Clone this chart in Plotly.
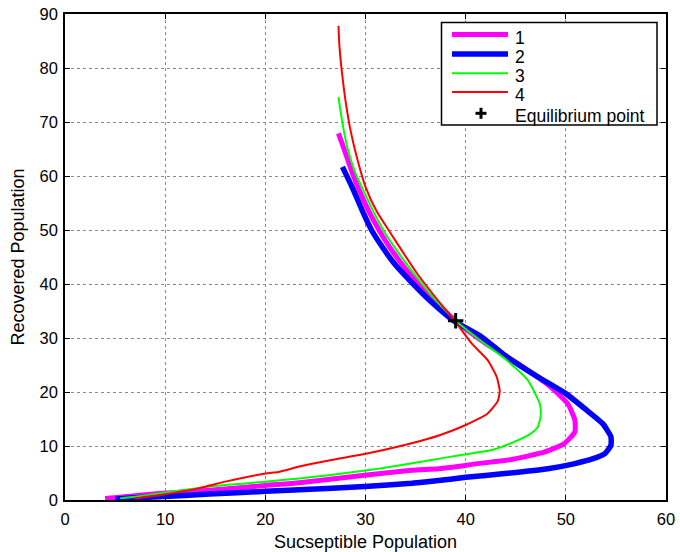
import plotly.graph_objects as go

# Curve 1 (magenta)
s1 = [4.0, 6.0, 9.4, 14.4, 20.0, 23.4, 29.9, 34.6, 37.3, 40.0, 40.6, 44.6, 47.9, 49.8, 50.9, 50.9, 50.2, 48.5, 45.5, 42.0, 39.0, 36.8, 34.9, 33.3, 32.0, 30.8, 29.7, 28.7, 27.9, 27.3]
r1 = [0.3, 0.6, 1.2, 1.8, 2.7, 3.2, 4.6, 5.5, 5.8, 6.4, 6.6, 7.5, 8.9, 10.4, 12.6, 14.8, 17.8, 20.9, 24.9, 29.0, 33.2, 37.0, 40.8, 44.5, 48.0, 51.8, 56.0, 60.5, 64.8, 67.9]

# Curve 2 (blue)
s2 = [5.0, 7.0, 9.4, 14.4, 20.0, 23.4, 29.9, 34.6, 37.3, 40.0, 43.9, 48.2, 50.8, 52.8, 53.9, 54.5, 54.5, 53.7, 52.1, 50.0, 47.2, 43.9, 41.6, 38.8, 36.5, 34.5, 33.0, 31.7, 30.6, 29.7, 28.7, 27.7]
r2 = [0.2, 0.4, 0.6, 1.1, 1.6, 1.9, 2.5, 3.1, 3.6, 4.2, 4.9, 5.8, 6.7, 7.7, 8.6, 10.1, 11.7, 14.1, 16.6, 19.7, 22.8, 26.8, 30.2, 33.2, 36.8, 40.5, 43.5, 46.8, 50.0, 53.5, 57.8, 61.7]

# Curve 3 (green)
s3 = [5.5, 7.0, 9.4, 14.4, 20.0, 23.4, 26.3, 31.3, 36.6, 39.4, 42.5, 44.5, 46.5, 47.2, 47.5, 47.4, 46.2, 43.9, 41.5, 39.0, 37.0, 35.6, 33.4, 32.0, 30.9, 30.0, 29.0, 28.2, 27.7, 27.3]
r3 = [0.3, 0.6, 1.2, 2.5, 3.4, 4.0, 4.6, 5.8, 7.4, 8.3, 9.2, 10.5, 12.3, 13.5, 15.7, 17.8, 22.2, 26.2, 29.5, 33.2, 37.0, 40.1, 45.5, 49.3, 53.0, 56.5, 60.5, 65.2, 69.8, 74.6]

# Curve 4 (red)
s4 = [6.9, 9.4, 13.4, 16.0, 20.0, 21.3, 23.4, 26.6, 29.9, 34.6, 37.4, 39.9, 42.2, 43.2, 43.4, 43.1, 42.2, 40.6, 38.9, 37.0, 35.2, 33.7, 32.3, 31.1, 30.0, 29.2, 28.5, 28.0, 27.6, 27.4, 27.3]
r4 = [0.3, 0.9, 2.2, 3.4, 4.9, 5.2, 6.2, 7.4, 8.5, 10.5, 12.0, 13.8, 16.0, 18.3, 20.2, 22.8, 25.9, 29.0, 33.2, 37.5, 41.8, 46.0, 50.0, 53.5, 58.0, 63.0, 68.5, 74.0, 80.0, 84.0, 87.8]

# Equilibrium point
eq_s = [39.0]
eq_r = [33.2]

x_ticks = [0, 10, 20, 30, 40, 50, 60]
y_ticks = [0, 10, 20, 30, 40, 50, 60, 70, 80, 90]

series = [
    ("1", s1, r1, "#ff00ff", 5),
    ("2", s2, r2, "#0000ff", 5.5),
    ("3", s3, r3, "#00ff00", 2),
    ("4", s4, r4, "#ff0000", 2),
]

FONT = "Liberation Sans, Arial, sans-serif"

fig = go.Figure()
for name, sx, ry, col, w in series:
    fig.add_trace(go.Scatter(x=sx, y=ry, mode="lines", name=name, showlegend=False,
                             line=dict(color=col, width=w, shape="spline", smoothing=0.5)))
fig.add_trace(go.Scatter(x=eq_s, y=eq_r, mode="markers", name="Equilibrium point",
                         showlegend=False,
                         marker=dict(symbol="cross-thin", size=11, color="black",
                                     line=dict(color="black", width=3))))

# ---- legend box drawn in paper space (layout decoration) ----
PX0, PX1, PY0, PY1 = 65, 666, 14, 500
def px(xp):
    return (xp - PX0) / (PX1 - PX0)
def py(yp):
    return (PY1 - yp) / (PY1 - PY0)

shapes = [dict(type="rect", xref="paper", yref="paper",
               x0=px(441.5), x1=px(657), y0=py(125), y1=py(22.5),
               line=dict(color="black", width=1.5), fillcolor="white", layer="above")]
annotations = []
row_y = [34.5, 54, 73.3, 92, 113.3]
labels = [s[0] for s in series] + ["Equilibrium point"]
for i, (name, sx, ry, col, w) in enumerate(series):
    shapes.append(dict(type="line", xref="paper", yref="paper",
                       x0=px(452), x1=px(508), y0=py(row_y[i]), y1=py(row_y[i]),
                       line=dict(color=col, width=w), layer="above"))
for i, lab in enumerate(labels):
    annotations.append(dict(xref="paper", yref="paper", x=px(513), y=py(row_y[i] + 3),
                            text=lab, showarrow=False, xanchor="left", yanchor="middle",
                            font=dict(family=FONT, size=17.5, color="black")))
# plus symbol in legend
cx, cy = px(481), py(113.3)
for (dx0, dy0, dx1, dy1) in [(-5.5, 0, 5.5, 0), (0, -5.5, 0, 5.5)]:
    shapes.append(dict(type="line", xref="paper", yref="paper", xsizemode="pixel",
                       ysizemode="pixel", xanchor=cx, yanchor=cy,
                       x0=dx0, x1=dx1, y0=dy0, y1=dy1,
                       line=dict(color="black", width=3), layer="above"))

axis_common = dict(
    showline=True, linecolor="black", linewidth=1.5, mirror="ticks",
    ticks="inside", ticklen=5, tickcolor="black", tickwidth=1,
    showgrid=True, gridcolor="#8a8a8a", griddash="dot", gridwidth=1,
    zeroline=False, automargin=False,
    tickfont=dict(family=FONT, size=16.5, color="black"),
)

fig.update_layout(
    width=680, height=552,
    margin=dict(l=65, r=14, t=14, b=52),
    paper_bgcolor="white", plot_bgcolor="white",
    font=dict(family=FONT, color="black"),
    showlegend=False,
    shapes=shapes,
    annotations=annotations,
    xaxis=dict(range=[0, 60], tickvals=x_ticks, ticktext=[str(v) for v in x_ticks],
               ticklabelstandoff=3,
               title=dict(text="Sucseptible Population", font=dict(family=FONT, size=18), standoff=12),
               **axis_common),
    yaxis=dict(range=[0, 90], tickvals=y_ticks, ticktext=[str(v) for v in y_ticks],
               ticklabelstandoff=2,
               title=dict(text="Recovered Population", font=dict(family=FONT, size=18), standoff=10),
               **axis_common),
)

fig.write_html("out.html")
